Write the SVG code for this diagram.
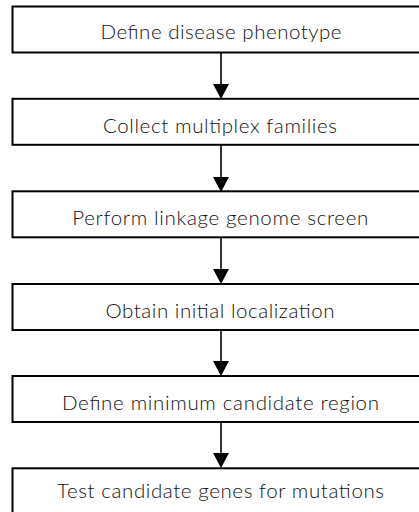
<svg xmlns="http://www.w3.org/2000/svg" width="419" height="512" viewBox="0 0 419 512">
<style>
.box{fill:#fff;stroke:#000;stroke-width:2}
.lbl{font-family:Lato,"Open Sans","Liberation Sans",sans-serif;font-weight:300;font-size:20.5px;fill:#111;text-anchor:middle}
.edge{stroke:#000;stroke-width:1.6;fill:none}
.head{fill:#000}
</style>
<g id="connectors">
<line class="edge" x1="221" y1="53" x2="221" y2="86"/><polygon class="head" points="213,84 229,84 221,99"/>
<line class="edge" x1="221" y1="145" x2="221" y2="178"/><polygon class="head" points="213,177 229,177 221,192"/>
<line class="edge" x1="221" y1="238" x2="221" y2="271"/><polygon class="head" points="213,269 229,269 221,284"/>
<line class="edge" x1="221" y1="330" x2="221" y2="363"/><polygon class="head" points="213,361 229,361 221,376"/>
<line class="edge" x1="221" y1="422" x2="221" y2="455"/><polygon class="head" points="213,453 229,453 221,468"/>
</g>
<g id="n1"><rect class="box" x="12.5" y="6.5" width="420" height="46"/><text class="lbl" x="221" y="39" textLength="241">Define disease phenotype</text></g>
<g id="n2"><rect class="box" x="12.5" y="98.8" width="420" height="46"/><text class="lbl" x="220" y="133" textLength="234">Collect multiplex families</text></g>
<g id="n3"><rect class="box" x="12.5" y="191.3" width="420" height="46"/><text class="lbl" x="220.3" y="225" textLength="296">Perform linkage genome screen</text></g>
<g id="n4"><rect class="box" x="12.5" y="284" width="420" height="46"/><text class="lbl" x="220" y="318" textLength="229">Obtain initial localization</text></g>
<g id="n5"><rect class="box" x="12.5" y="376" width="420" height="46"/><text class="lbl" x="220.5" y="410" textLength="317">Define minimum candidate region</text></g>
<g id="n6"><rect class="box" x="12.5" y="468.3" width="420" height="60"/><text class="lbl" x="220.5" y="497.5" textLength="327">Test candidate genes for mutations</text></g>
</svg>
